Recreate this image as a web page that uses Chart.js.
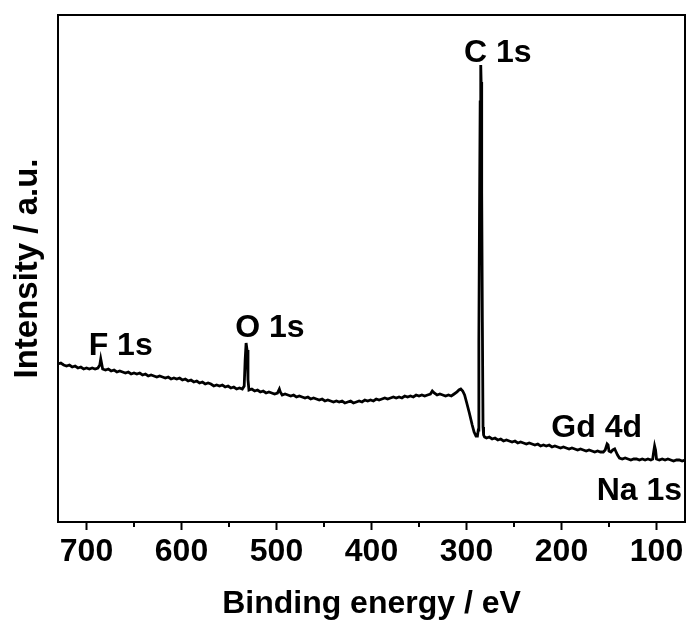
<!DOCTYPE html>
<html>
<head>
<meta charset="utf-8">
<title>XPS survey</title>
<script src="https://cdn.jsdelivr.net/npm/chart.js@4.4.1/dist/chart.umd.min.js"></script>
<style>
    body { margin: 0; background: #fff; }
    #chartBox { width: 689px; height: 624px; }
</style>
</head>
<body>
<div id="chartBox"><canvas id="xpsChart" width="689" height="624"></canvas></div>
<script>
// binding energy (eV) and counts
var energia = [730, 727, 724, 721, 718, 715, 712, 709, 706, 703, 700, 697, 694, 691, 688, 686, 685, 684, 683, 680,
    677, 674, 671, 668, 665, 662, 659, 656, 653, 650, 647, 644, 641, 638, 635, 632, 629, 626, 623, 620,
    617, 614, 611, 608, 605, 602, 599, 596, 593, 590, 587, 584, 581, 578, 575, 572, 569, 566, 563, 560,
    557, 554, 551, 548, 545, 542, 539, 536, 534, 533, 532, 531, 530, 529, 526, 523, 520, 517, 514, 511,
    508, 505, 502, 499, 497, 496, 494, 491, 488, 485, 482, 479, 476, 473, 470, 467, 464, 461, 458, 455,
    452, 449, 446, 443, 440, 437, 434, 431, 428, 425, 422, 419, 416, 413, 410, 407, 404, 401, 398, 395,
    392, 389, 386, 383, 380, 377, 374, 371, 368, 365, 362, 359, 356, 353, 350, 347, 344, 341, 338, 336,
    334, 331, 328, 325, 322, 319, 316, 313, 310, 308, 306, 304, 302, 300, 297, 294, 292, 290, 288.5, 287.6,
    287, 286.3, 285.6, 285, 284.6, 284, 283.3, 282.6, 282, 281, 279, 276, 273, 270, 267, 264, 261, 258, 255, 252, 249, 246,
    243, 240, 237, 234, 231, 228, 225, 222, 219, 216, 213, 210, 207, 204, 201, 198, 195, 192, 189, 186,
    183, 180, 177, 174, 171, 168, 165, 162, 159, 156, 154, 152, 151, 150, 148, 146, 144, 143, 141, 139,
    136, 133, 130, 127, 124, 121, 118, 115, 112, 109, 106, 104, 103, 102, 101, 100, 97, 94, 91, 88,
    85, 82, 79, 76, 73, 70];

var intensidade = [158, 159, 157, 156, 157, 155, 156, 154, 155, 153, 154, 153, 154, 153, 154, 157, 163, 158, 153, 152,
    153, 151, 152, 150, 151, 150, 149, 150, 148, 149, 148, 149, 147, 148, 146, 147, 146, 145, 146, 145,
    144, 145, 143, 144, 143, 144, 142, 143, 141, 142, 140, 141, 139, 140, 138, 139, 138, 136, 137, 136,
    137, 135, 136, 134, 135, 133, 134, 133, 136, 162, 179, 172, 142, 132, 133, 131, 132, 130, 131, 129,
    130, 129, 128, 129, 133, 130, 127, 128, 127, 126, 127, 125, 126, 125, 124, 125, 123, 124, 123, 122,
    123, 121, 122, 121, 120, 121, 120, 121, 119, 120, 121, 119, 120, 121, 120, 122, 121, 122, 121, 123,
    122, 123, 124, 123, 124, 125, 124, 125, 124, 126, 125, 126, 125, 127, 126, 127, 126, 127, 128, 131,
    129, 127, 128, 127, 126, 127, 126, 128, 130, 132, 133, 131, 127, 120, 109, 97, 90, 86, 86, 92,
    180, 310, 420, 457, 440, 330, 200, 95, 87, 85, 84, 85, 83, 84, 82, 83, 81, 82, 81, 80, 81, 79,
    80, 79, 78, 79, 78, 77, 78, 76, 77, 76, 77, 75, 76, 75, 74, 75, 74, 73, 74, 73,
    72, 73, 72, 71, 72, 71, 70, 71, 70, 70, 72, 78, 77, 71, 70, 72, 73, 71, 67, 64,
    63, 64, 63, 62, 63, 63, 62, 63, 62, 63, 62, 63, 70, 76, 72, 63, 62, 63, 62, 63,
    62, 61, 62, 62, 61, 62];

var picoNomes = ['C 1s', 'O 1s', 'F 1s', 'Gd 4d', 'Na 1s'];
var picoEnergia = [267, 507, 664, 163, 118];
var picoAltura = [460, 185, 167, 85, 22];

var minorTicks = [650, 550, 450, 350, 250, 150];

var fonte = "'Liberation Sans', Arial, sans-serif";

window.onload = function () {
    this.grafico();
}

function grafico() {

    var pontos = energia.map(function (e, i) {
        return { x: e, y: intensidade[i] };
    });

    var moldura = {
        id: 'moldura',
        afterDraw: function (chart) {
            var c = chart.ctx;
            var a = chart.chartArea;
            var xs = chart.scales.x;
            var ys = chart.scales.y;
            c.save();
            c.strokeStyle = '#000';
            c.lineWidth = 2;
            c.strokeRect(a.left, a.top, a.right - a.left, a.bottom - a.top);

            // minor ticks at the 50s
            for (var i = 0; i < minorTicks.length; i++) {
                var px = xs.getPixelForValue(minorTicks[i]);
                c.beginPath();
                c.moveTo(px, a.bottom);
                c.lineTo(px, a.bottom + 5);
                c.stroke();
            }

            c.fillStyle = '#000';
            c.font = 'bold 32px ' + fonte;
            c.textAlign = 'center';
            c.textBaseline = 'alphabetic';
            for (var j = 0; j < picoNomes.length; j++) {
                c.fillText(picoNomes[j], xs.getPixelForValue(picoEnergia[j]), ys.getPixelForValue(picoAltura[j]));
            }
            c.restore();
        }
    };

    var ctx = document.getElementById('xpsChart');

    var myChart = new Chart(ctx, {
        type: 'line',
        data: {
            datasets: [{
                label: 'XPS',
                data: pontos,
                borderColor: '#000',
                borderWidth: 2.8,
                pointRadius: 0,
                tension: 0,
                fill: false
            }]
        },
        options: {
            responsive: false,
            animation: false,
            layout: { padding: { top: 15, right: 4, left: 0, bottom: 0 } },
            plugins: {
                legend: { display: false },
                tooltip: { enabled: false }
            },
            scales: {
                x: {
                    type: 'linear',
                    min: 70,
                    max: 730,
                    reverse: true,
                    afterFit: function (s) { s.height = 102; },
                    border: { display: true, color: '#000', width: 2 },
                    grid: { drawOnChartArea: false, tickLength: 8, tickWidth: 2, tickColor: '#000' },
                    ticks: {
                        stepSize: 100,
                        includeBounds: false,
                        color: '#000',
                        padding: 3,
                        font: { family: fonte, size: 32, weight: 'bold' }
                    },
                    title: {
                        display: true,
                        text: 'Binding energy / eV',
                        color: '#000',
                        padding: { top: 0, bottom: 1 },
                        font: { family: fonte, size: 32, weight: 'bold' }
                    }
                },
                y: {
                    min: 0,
                    max: 507,
                    afterFit: function (s) { s.width = 58; },
                    border: { display: true, color: '#000', width: 2 },
                    grid: { display: false },
                    ticks: { display: false },
                    title: {
                        display: true,
                        text: 'Intensity / a.u.',
                        color: '#000',
                        padding: { top: 8, bottom: 0 },
                        font: { family: fonte, size: 33, weight: 'bold' }
                    }
                }
            }
        },
        plugins: [moldura]
    });
}
</script>
</body>
</html>
